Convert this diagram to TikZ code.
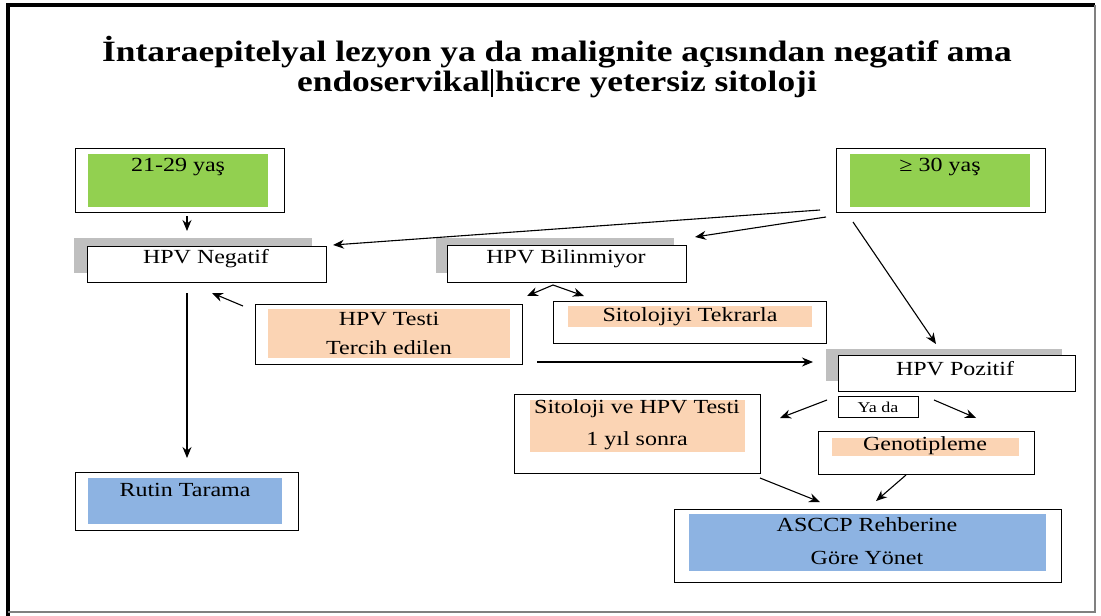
\documentclass[tikz,border=0pt]{standalone}
\usepackage{fontspec}
\setmainfont{Liberation Serif}[FakeStretch=1.2]
\usetikzlibrary{arrows.meta}
\definecolor{agegreen}{HTML}{92D050}
\definecolor{actpeach}{HTML}{FBD4B4}
\definecolor{endblue}{HTML}{8DB3E2}
\definecolor{shadowgray}{HTML}{BFBFBF}
\begin{document}
\begin{tikzpicture}[x=1pt,y=-1pt,
  box/.style={draw=black, line width=1.3pt, fill=white, anchor=north west, inner sep=0pt},
  panel/.style={anchor=north west, inner sep=0pt, draw=none},
  shadowpanel/.style={panel, fill=shadowgray},
  txt/.style={inner sep=0pt, font=\fontsize{20}{24}\selectfont},
  conn/.style={-{Stealth[length=11pt,width=9pt]}, line width=1.1pt}]
\useasboundingbox (0,0) rectangle (1101,616);

% page frame
\draw[line width=3.5pt] (8,616) -- (8,5) -- (1095,5);
\draw[gray, line width=1.2pt] (1095,5) -- (1095,612) -- (8,612);

% title
\node[inner sep=0pt, align=center, font=\fontsize{29.5}{26}\bfseries] (title) at (557,67)
  {İntaraepitelyal lezyon ya da malignite açısından negatif ama\\
   endoservikal\kern1pt\rule[-0.2em]{2.2pt}{0.95em}\kern2pt hücre yetersiz sitoloji};

% age groups
\node[box, minimum width=209, minimum height=64] (young) at (75,148) {};
\node[panel, fill=agegreen, minimum width=180, minimum height=53] (youngp) at (88,154) {};
\node[txt] (youngt) at (178,167) {21-29 yaş};

\node[box, minimum width=209, minimum height=64] (old) at (836,148) {};
\node[panel, fill=agegreen, minimum width=180, minimum height=53] (oldp) at (850,154) {};
\node[txt] (oldt) at (940,167) {≥ 30 yaş};

% HPV status boxes with shadows
\node[shadowpanel, minimum width=238, minimum height=35] (negs) at (74,238) {};
\node[box, minimum width=239, minimum height=36] (neg) at (87,246) {};
\node[txt] (negt) at (206,259) {HPV Negatif};

\node[shadowpanel, minimum width=238, minimum height=35] (unks) at (436,238) {};
\node[box, minimum width=239, minimum height=37] (unk) at (447,245) {};
\node[txt] (unkt) at (566,259) {HPV Bilinmiyor};

\node[shadowpanel, minimum width=236, minimum height=32] (poss) at (826,349) {};
\node[box, minimum width=237, minimum height=36] (pos) at (838,355) {};
\node[txt] (post) at (955,369) {HPV Pozitif};

% actions
\node[box, minimum width=267, minimum height=60] (test) at (255,304) {};
\node[panel, fill=actpeach, minimum width=242, minimum height=49] (testp) at (268,309) {};
\node[txt] (testt1) at (389,319) {HPV Testi};
\node[txt] (testt2) at (389,348) {Tercih edilen};

\node[box, minimum width=273, minimum height=42] (rep) at (553,301) {};
\node[panel, fill=actpeach, minimum width=244, minimum height=21] (repp) at (568,306) {};
\node[txt] (rept) at (690,317) {Sitolojiyi Tekrarla};

\node[box, minimum width=80, minimum height=21] (or) at (838,396) {};
\node[inner sep=0pt, font=\fontsize{15}{16}\selectfont] (ort) at (878,407) {Ya da};

\node[box, minimum width=246, minimum height=79] (cyt) at (514,394) {};
\node[panel, fill=actpeach, minimum width=215, minimum height=52] (cytp) at (530,400) {};
\node[txt] (cytt1) at (637,409) {Sitoloji ve HPV Testi};
\node[txt] (cytt2) at (637,441) {1 yıl sonra};

\node[box, minimum width=216, minimum height=43] (gen) at (818,431) {};
\node[panel, fill=actpeach, minimum width=187, minimum height=18] (genp) at (832,438) {};
\node[txt] (gent) at (925,446) {Genotipleme};

% outcomes
\node[box, minimum width=223, minimum height=58] (rout) at (75,472) {};
\node[panel, fill=endblue, minimum width=194, minimum height=46] (routp) at (88,478) {};
\node[txt] (routt) at (185,490) {Rutin Tarama};

\node[box, minimum width=387, minimum height=73] (asc) at (674,509) {};
\node[panel, fill=endblue, minimum width=357, minimum height=57] (ascp) at (689,514) {};
\node[txt] (asct1) at (867,525) {ASCCP Rehberine};
\node[txt] (asct2) at (867,558) {Göre Yönet};

% connector end points
\coordinate (a1) at (187,216);  \coordinate (a2) at (187,231);
\coordinate (b1) at (820,210);  \coordinate (b2) at (333,245);
\coordinate (c1) at (826,217);  \coordinate (c2) at (695,237);
\coordinate (d1) at (853,222);  \coordinate (d2) at (936,344);
\coordinate (e1) at (187,293);  \coordinate (e2) at (187,458);
\coordinate (f1) at (243,306);  \coordinate (f2) at (212,293);
\coordinate (g0) at (553,285);  \coordinate (g1) at (527,296);  \coordinate (g2) at (584,296);
\coordinate (h1) at (537,362);  \coordinate (h2) at (813,362);
\coordinate (i1) at (827,400);  \coordinate (i2) at (780,418);
\coordinate (j1) at (934,400);  \coordinate (j2) at (976,418);
\coordinate (k1) at (760,478);  \coordinate (k2) at (820,502);
\coordinate (l1) at (906,475);  \coordinate (l2) at (876,501);

% connectors
\draw[conn] (a1) -- (a2);
\draw[conn] (b1) -- (b2);
\draw[conn] (c1) -- (c2);
\draw[conn] (d1) -- (d2);
\draw[conn] (e1) -- (e2);
\draw[conn] (f1) -- (f2);
\draw[conn] (g0) -- (g1);
\draw[conn] (g0) -- (g2);
\draw[conn] (h1) -- (h2);
\draw[conn] (i1) -- (i2);
\draw[conn] (j1) -- (j2);
\draw[conn] (k1) -- (k2);
\draw[conn] (l1) -- (l2);
\end{tikzpicture}
\end{document}
